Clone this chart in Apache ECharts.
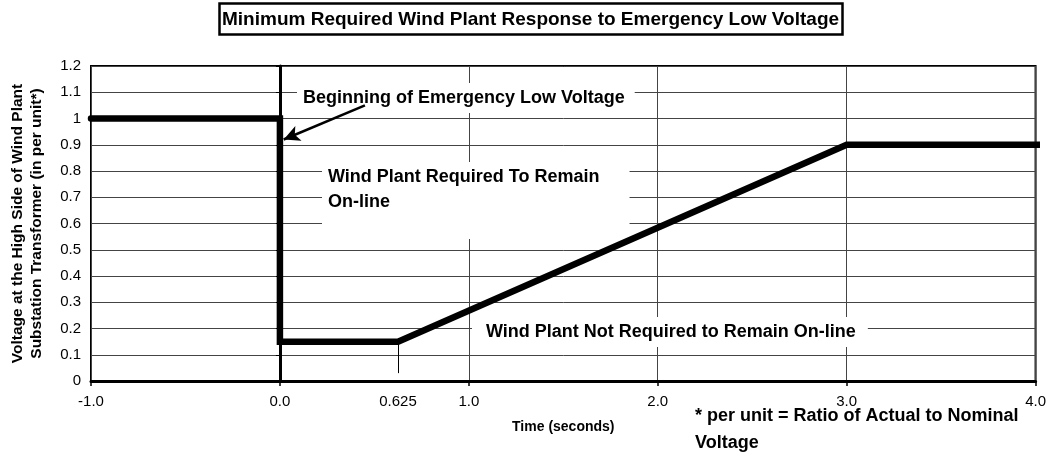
<!DOCTYPE html>
<html>
<head>
<meta charset="utf-8">
<script src="https://cdn.jsdelivr.net/npm/echarts@6/dist/echarts.min.js"></script>
<style>html,body{margin:0;padding:0;background:#fff}#c{width:1049px;height:456px}</style>
</head>
<body>
<div id="c"></div>
<script>
const timeValues = [-1, 0, 0, 0.625, 3, 4.05];
const voltageValues = [1, 1, 0.15, 0.15, 0.9, 0.9];
const xLabelValues = [-1, 0, 0.625, 1, 2, 3, 4];
const arrowFrom = [0.45, 1.05];
const arrowTo = [0.02, 0.92];
const dropFrom = [0.625, 0.15];
const dropTo = [0.625, 0.03];
const titleText = 'Minimum Required Wind Plant Response to Emergency Low Voltage';
const yAxisName = 'Voltage at the High Side of Wind Plant\nSubstation Transformer (in per unit*)';
const xAxisName = 'Time (seconds)';
const note1 = 'Beginning of Emergency Low Voltage';
const note2 = 'Wind Plant Required To Remain\nOn-line';
const note3 = 'Wind Plant Not Required to Remain On-line';
const footnote = '* per unit = Ratio of Actual to Nominal\nVoltage';

const FF = "'Liberation Sans', Arial, sans-serif";
const chart = echarts.init(document.getElementById('c'), null, {renderer: 'canvas'});
chart.setOption({
  animation: false,
  backgroundColor: '#fff',
  title: {
    text: titleText,
    left: 219, top: 3,
    padding: [7, 4, 6, 3],
    borderColor: '#000', borderWidth: 2.5,
    textStyle: {fontFamily: FF, fontWeight: 'bold', fontSize: 19, color: '#000'}
  },
  grid: {left: 88, right: 9, top: 66, bottom: 75, show: true, borderColor: '#000', borderWidth: 2, backgroundColor: 'transparent'},
  xAxis: {
    type: 'value', min: -1, max: 4, interval: 1,
    name: xAxisName, nameLocation: 'middle', nameGap: 39,
    nameTextStyle: {fontFamily: FF, fontWeight: 'bold', fontSize: 14, color: '#000'},
    axisLine: {lineStyle: {color: '#000', width: 3}},
    axisTick: {show: true, length: 5, lineStyle: {color: '#000', width: 1.5}},
    axisLabel: {
      customValues: xLabelValues, margin: 13, color: '#000', fontFamily: FF, fontSize: 15,
      formatter: v => (Math.abs(v - 0.625) < 1e-9 ? '0.625' : v.toFixed(1))
    },
    splitLine: {show: true, lineStyle: {color: '#444', width: 1}}
  },
  yAxis: {
    type: 'value', min: 0, max: 1.2, interval: 0.1,
    name: yAxisName, nameLocation: 'middle', nameGap: 45,
    nameTextStyle: {fontFamily: FF, fontWeight: 'bold', fontSize: 15.5, lineHeight: 19, color: '#000'},
    axisLine: {show: true, lineStyle: {color: '#000', width: 3}},
    axisTick: {show: true, length: 4, lineStyle: {color: '#000', width: 1}},
    axisLabel: {margin: 10, color: '#000', fontFamily: FF, fontSize: 15},
    splitLine: {show: true, lineStyle: {color: '#444', width: 1}}
  },
  graphic: [
    {type: 'text', x: 297, y: 83, z: 1, style: {text: note1, font: 'bold 18px ' + FF, fill: '#000', backgroundColor: '#fff', padding: [5, 10, 5, 6], lineHeight: 20}},
    {type: 'text', x: 322, y: 162, z: 1, style: {text: note2, font: 'bold 18px ' + FF, fill: '#000', backgroundColor: '#fff', padding: [3, 30, 24, 6], lineHeight: 25}},
    {type: 'text', x: 472, y: 317, z: 1, style: {text: note3, font: 'bold 18px ' + FF, fill: '#000', backgroundColor: '#fff', padding: [5, 12, 5, 14], lineHeight: 20}},
    {type: 'text', x: 695, y: 403, z: 1, style: {text: footnote, font: 'bold 18px ' + FF, fill: '#000', lineHeight: 27}}
  ],
  series: [{
    type: 'line', z: 3,
    data: timeValues.map((t, i) => [t, voltageValues[i]]),
    showSymbol: false, symbol: 'none', clip: false,
    lineStyle: {color: '#000', width: 6.5, cap: 'round', join: 'miter'},
    markLine: {
      silent: true, animation: false,
      symbol: ['none', 'none'],
      label: {show: false},
      data: [
        [{coord: arrowFrom, symbol: 'none', lineStyle: {color: '#000', width: 2.5, type: 'solid'}},
         {coord: arrowTo, symbol: 'arrow', symbolSize: [12, 16]}],
        [{coord: dropFrom, lineStyle: {color: '#000', width: 1, type: 'solid'}},
         {coord: dropTo}]
      ]
    }
  }]
});
</script>
</body>
</html>
